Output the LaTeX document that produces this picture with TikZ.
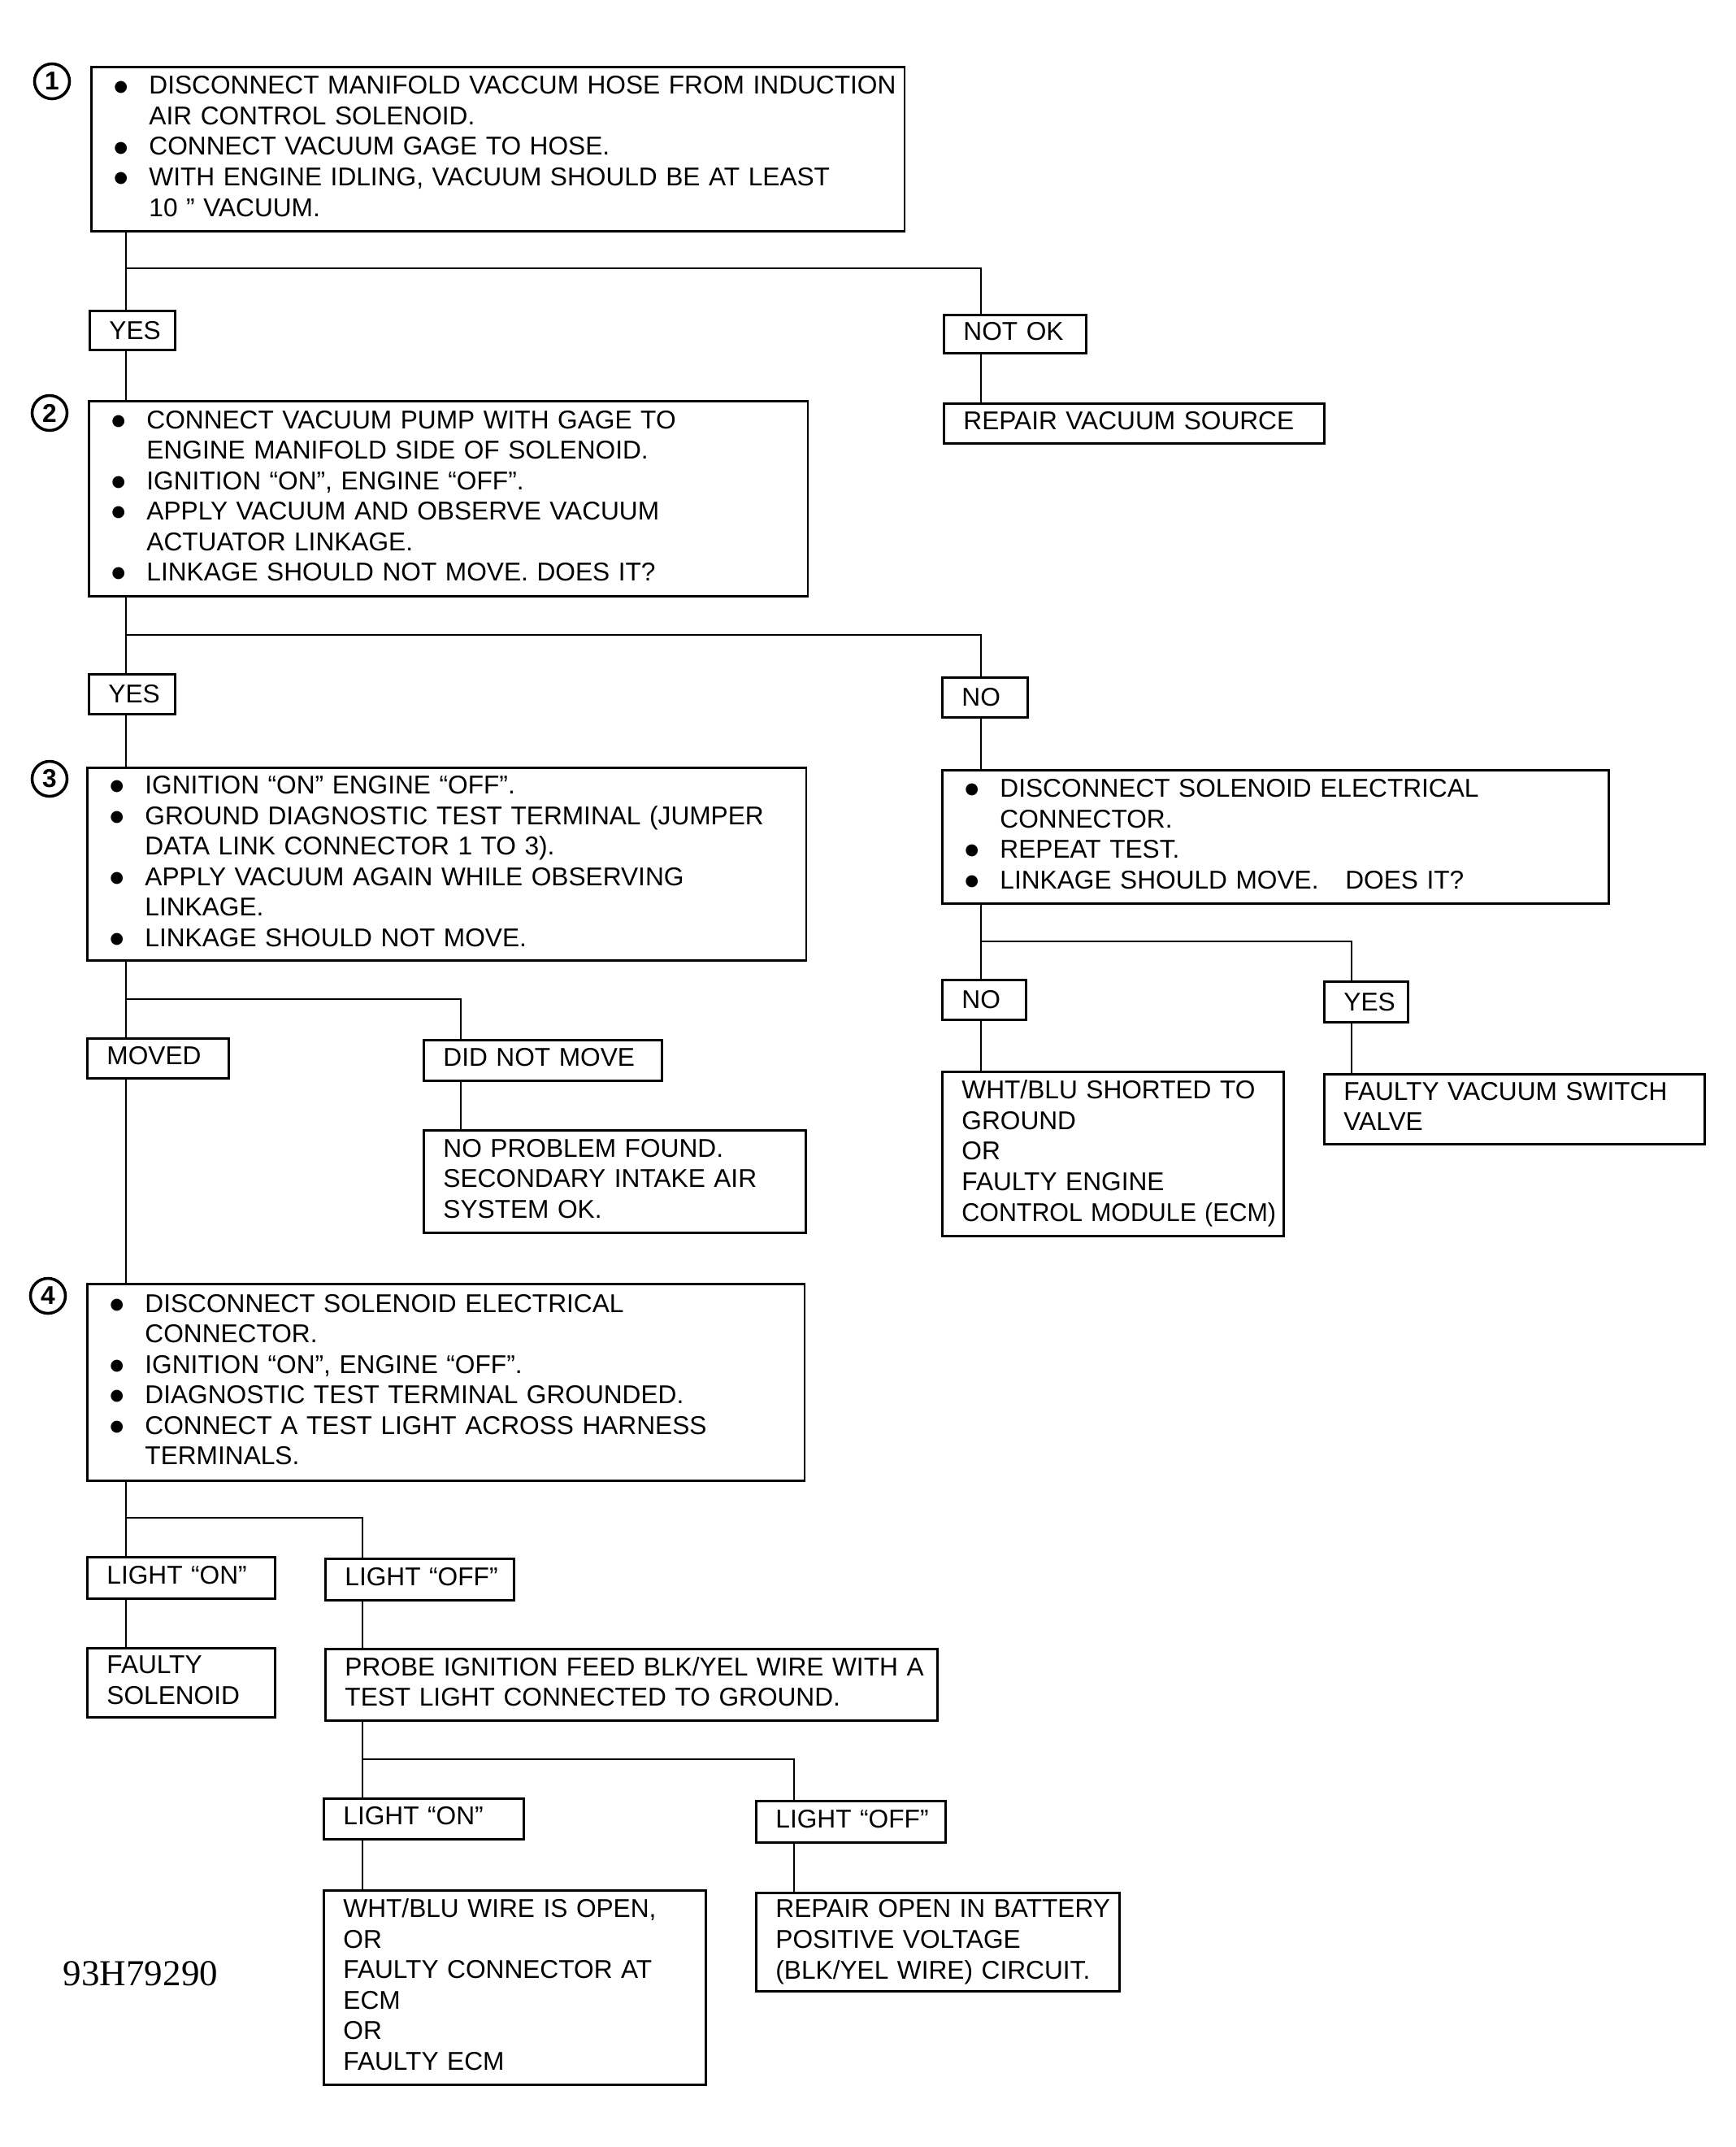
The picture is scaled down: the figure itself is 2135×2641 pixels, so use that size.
\documentclass[tikz,border=0pt]{standalone}
\usepackage{fontspec}
\setmainfont{Liberation Sans}
\newfontfamily\serialfont{Liberation Serif}
\newfontfamily\dotfont{DejaVu Sans}
\newcommand{\bul}{\makebox[0.47cm][l]{\hspace{0.04cm}\raisebox{1.1pt}{\dotfont\fontsize{5.5}{6}\selectfont ●}}}
\newcommand{\ind}{\hspace*{0.47cm}}
\newcommand{\rows}[1]{\begin{tabular}{@{}l@{}}#1\end{tabular}}

\begin{document}
\begin{tikzpicture}[x=0.01cm, y=-0.01cm, line width=0.8pt,
	box/.style 2 args={draw, anchor=north west, inner xsep=0.24cm, inner ysep=0pt, align=left,
		text width=#1, minimum height=#2, font=\fontsize{9}{10.67}\selectfont},
	num/.style={draw, circle, line width=1pt, minimum size=0.43cm, inner sep=0pt,
		font=\fontsize{9}{10}\selectfont\bfseries}]
	
	\useasboundingbox (0,0) rectangle (2135,2641);
	
	% stem columns and branch points
	\coordinate (cA) at (155,0);
	\coordinate (j1) at (1207,330);
	\coordinate (j2) at (1207,781);
	\coordinate (j3) at (567,1229);
	\coordinate (j4) at (1663,1158);
	\coordinate (j5) at (446,1867);
	\coordinate (j6) at (977,2164);
	
	% step 1
	\node [num] (n1) at (64,100) {1};
	\node [box={9.52cm}{2.02cm}] (b1) at (111,81) {\rows{\bul DISCONNECT MANIFOLD VACCUM HOSE FROM INDUCTION\\
		\ind AIR CONTROL SOLENOID.\\
		\bul CONNECT VACUUM GAGE TO HOSE.\\
		\bul WITH ENGINE IDLING, VACUUM SHOULD BE AT LEAST\\
		\ind 10 ” VACUUM.}};
	\node [box={0.57cm}{0.48cm}] (yes1) at (109,381) {YES};
	\node [box={1.27cm}{0.47cm}] (notok) at (1160,386) {\rows{NOT OK}};
	\node [box={4.20cm}{0.49cm}] (repair) at (1160,495) {\rows{REPAIR VACUUM SOURCE}};
	
	% step 2
	\node [num] (n2) at (61,508) {2};
	\node [box={8.36cm}{2.40cm}] (b2) at (108,492) {\rows{\bul CONNECT VACUUM PUMP WITH GAGE TO\\
		\ind ENGINE MANIFOLD SIDE OF SOLENOID.\\
		\bul IGNITION “ON”, ENGINE “OFF”.\\
		\bul APPLY VACUUM AND OBSERVE VACUUM\\
		\ind ACTUATOR LINKAGE.\\
		\bul LINKAGE SHOULD NOT MOVE. DOES IT?}};
	\node [box={0.58cm}{0.49cm}] (yes2) at (108,828) {YES};
	\node [box={0.57cm}{0.49cm}] (no1) at (1158,832) {NO};
	
	% step 3
	\node [num] (n3) at (61,958) {3};
	\node [box={8.36cm}{2.37cm}] (b3) at (106,943) {\rows{\bul IGNITION “ON” ENGINE “OFF”.\\
		\bul GROUND DIAGNOSTIC TEST TERMINAL (JUMPER\\
		\ind DATA LINK CONNECTOR 1 TO 3).\\
		\bul APPLY VACUUM AGAIN WHILE OBSERVING\\
		\ind LINKAGE.\\
		\bul LINKAGE SHOULD NOT MOVE.}};
	\node [box={1.26cm}{0.49cm}] (moved) at (106,1276) {\rows{MOVED}};
	\node [box={2.45cm}{0.50cm}] (didnot) at (520,1278) {\rows{DID NOT MOVE}};
	\node [box={4.22cm}{1.26cm}] (noprob) at (520,1389) {\rows{NO PROBLEM FOUND.\\
		SECONDARY INTAKE AIR\\
		SYSTEM OK.}};
	
	% right branch
	\node [box={7.72cm}{1.64cm}] (b5) at (1158,946) {\rows{\bul DISCONNECT SOLENOID ELECTRICAL\\
		\ind CONNECTOR.\\
		\bul REPEAT TEST.\\
		\bul LINKAGE SHOULD MOVE.\hspace{0.7em} DOES IT?}};
	\node [box={0.55cm}{0.49cm}] (no2) at (1158,1204) {NO};
	\node [box={0.55cm}{0.50cm}] (yes3) at (1628,1206) {YES};
	\node [box={3.72cm}{2.02cm}] (wht) at (1158,1317) {\rows{WHT/BLU SHORTED TO\\
		GROUND\\
		OR\\
		FAULTY ENGINE\\
		\scalebox{0.96}[1]{CONTROL MODULE (ECM)}}};
	\node [box={4.20cm}{0.86cm}] (valve) at (1628,1320) {\rows{FAULTY VACUUM SWITCH\\
		VALVE}};
	
	% step 4
	\node [num] (n4) at (59,1594) {4};
	\node [box={8.34cm}{2.42cm}] (b4) at (106,1578) {\rows{\bul DISCONNECT SOLENOID ELECTRICAL\\
		\ind CONNECTOR.\\
		\bul IGNITION “ON”, ENGINE “OFF”.\\
		\bul DIAGNOSTIC TEST TERMINAL GROUNDED.\\
		\bul CONNECT A TEST LIGHT ACROSS HARNESS\\
		\ind TERMINALS.}};
	\node [box={1.83cm}{0.51cm}] (lighton) at (106,1914) {\rows{LIGHT “ON”}};
	\node [box={1.84cm}{0.51cm}] (lightoff) at (399,1916) {\rows{LIGHT “OFF”}};
	\node [box={1.83cm}{0.85cm}] (faulty) at (106,2026) {\rows{FAULTY\\
		SOLENOID}};
	\node [box={7.05cm}{0.88cm}] (probe) at (399,2027) {\rows{PROBE IGNITION FEED BLK/YEL WIRE WITH A\\
		TEST LIGHT CONNECTED TO GROUND.}};
	\node [box={1.98cm}{0.50cm}] (lighton2) at (397,2211) {\rows{LIGHT “ON”}};
	\node [box={1.85cm}{0.51cm}] (lightoff2) at (929,2214) {\rows{LIGHT “OFF”}};
	\node [box={4.22cm}{2.39cm}] (whtblu2) at (397,2324) {\rows{WHT/BLU WIRE IS OPEN,\\
		OR\\
		FAULTY CONNECTOR AT\\
		ECM\\
		OR\\
		FAULTY ECM}};
	\node [box={3.99cm}{1.21cm}] (repairopen) at (929,2327) {\rows{REPAIR OPEN IN BATTERY\\
		POSITIVE VOLTAGE\\
		(BLK/YEL WIRE) CIRCUIT.}};
	
	\node [font=\serialfont\fontsize{12.8}{14}\selectfont] (code) at (173,2428) {93H79290};
	
	% connectors
	\draw (b1.south -| cA) -- (yes1.north -| cA);
	\draw (j1 -| cA) -- (j1) -- (notok.north -| j1);
	\draw (notok.south -| j1) -- (repair.north -| j1);
	\draw (yes1.south -| cA) -- (b2.north -| cA);
	\draw (b2.south -| cA) -- (yes2.north -| cA);
	\draw (j2 -| cA) -- (j2) -- (no1.north -| j2);
	\draw (no1.south -| j2) -- (b5.north -| j2);
	\draw (yes2.south -| cA) -- (b3.north -| cA);
	\draw (b3.south -| cA) -- (moved.north -| cA);
	\draw (j3 -| cA) -- (j3) -- (didnot.north -| j3);
	\draw (didnot.south -| j3) -- (noprob.north -| j3);
	\draw (moved.south -| cA) -- (b4.north -| cA);
	\draw (b5.south -| j2) -- (no2.north -| j2);
	\draw (j4 -| j2) -- (j4) -- (yes3.north -| j4);
	\draw (no2.south -| j2) -- (wht.north -| j2);
	\draw (yes3.south -| j4) -- (valve.north -| j4);
	\draw (b4.south -| cA) -- (lighton.north -| cA);
	\draw (j5 -| cA) -- (j5) -- (lightoff.north -| j5);
	\draw (lighton.south -| cA) -- (faulty.north -| cA);
	\draw (lightoff.south -| j5) -- (probe.north -| j5);
	\draw (probe.south -| j5) -- (lighton2.north -| j5);
	\draw (j6 -| j5) -- (j6) -- (lightoff2.north -| j6);
	\draw (lighton2.south -| j5) -- (whtblu2.north -| j5);
	\draw (lightoff2.south -| j6) -- (repairopen.north -| j6);
\end{tikzpicture}
\end{document}
